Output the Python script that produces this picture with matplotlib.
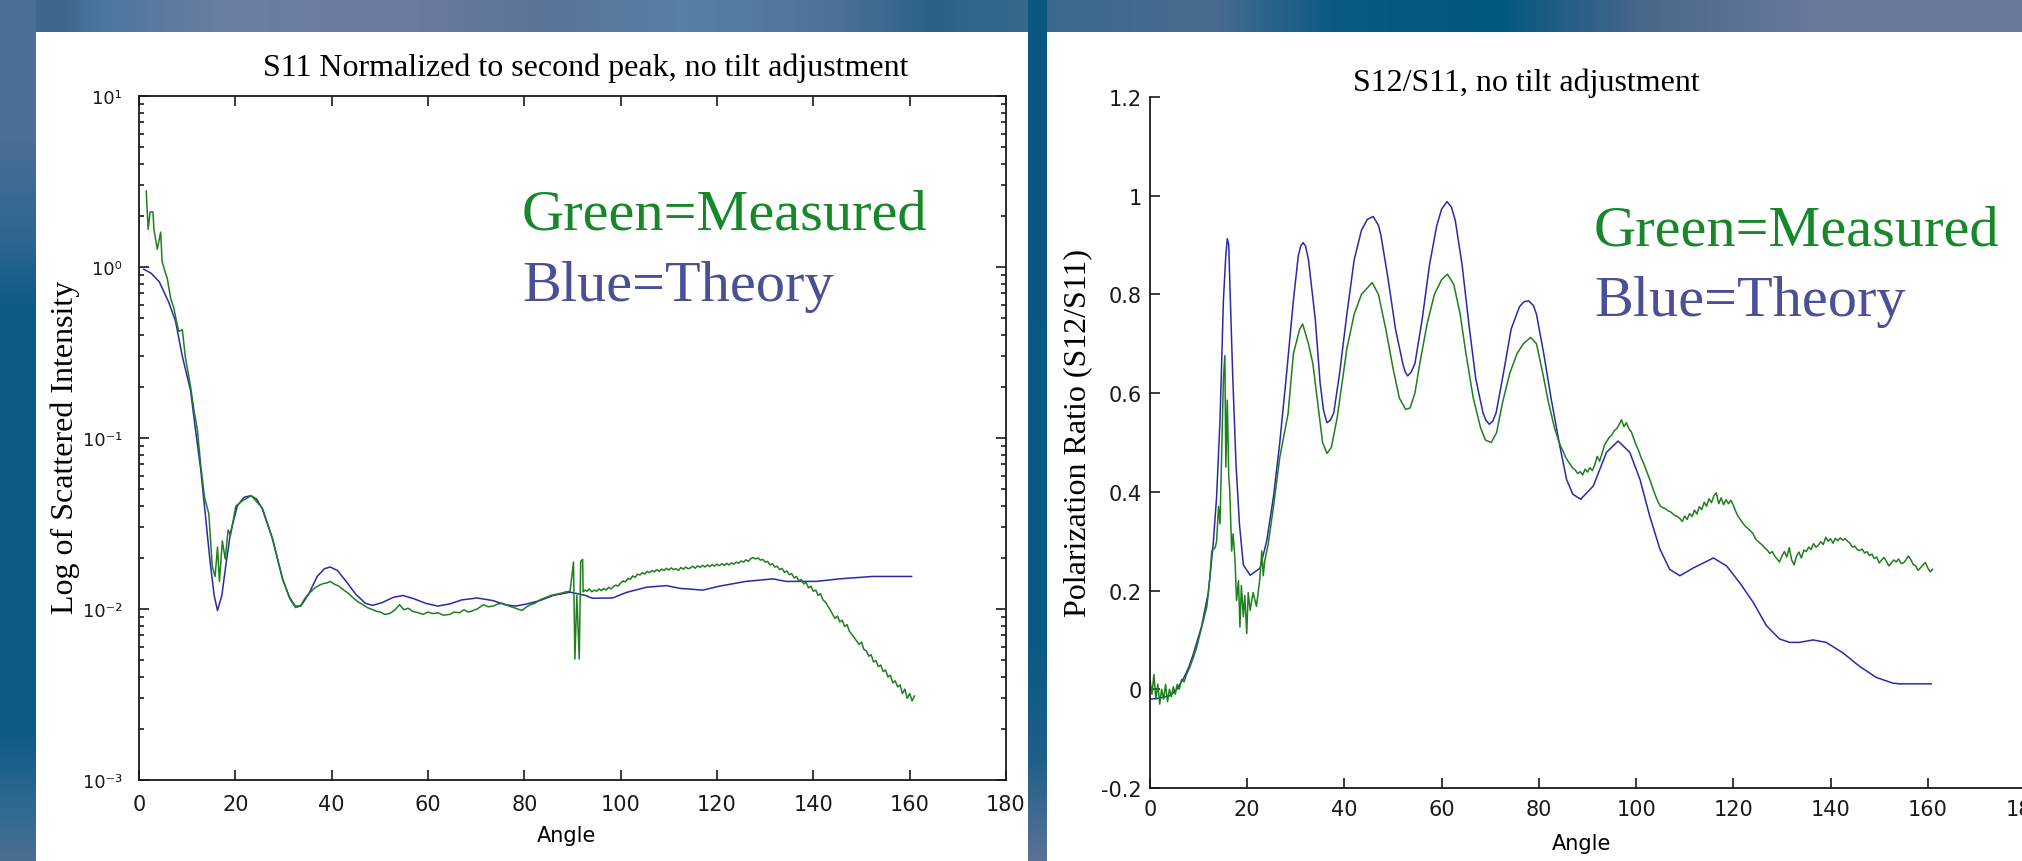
import numpy as np
import matplotlib
matplotlib.use('Agg')
import matplotlib.pyplot as plt
import matplotlib.colors as mcolors
from matplotlib.ticker import LogLocator, NullFormatter

# ---------------- left chart: S11 (log scale) ----------------
s11_theory_angle = [1.0, 2.5, 4.2, 6.2, 7.6, 9.0, 10.7, 11.8, 12.8, 13.8,
                    14.7, 15.6, 16.3, 17.2, 18.0, 19.0, 20.4, 21.8, 23.2, 24.4,
                    25.6, 27.7, 29.8, 31.2, 32.4, 33.6, 35.2, 37.0, 38.5, 39.7,
                    41.2, 43.0, 45.0, 47.0, 48.5, 50.5, 52.8, 54.8, 57.0, 59.5,
                    62.0, 64.5, 67.0, 70.2, 73.5, 76.0, 78.2, 80.5, 83.2, 86.0,
                    89.5, 92.7, 94.1, 98.3, 101.2, 105.3, 109.5, 112.3, 117.1, 120.5,
                    126.0, 131.6, 134.3, 140.6, 145.4, 152.3, 160.4]
s11_theory = [0.97, 0.92, 0.82, 0.62, 0.48, 0.30, 0.19, 0.108, 0.066, 0.035,
              0.0196, 0.012, 0.0098, 0.012, 0.0178, 0.028, 0.040, 0.045, 0.046, 0.044,
              0.0385, 0.0257, 0.015, 0.0118, 0.0104, 0.0104, 0.0122, 0.0155, 0.0172, 0.0176,
              0.0168, 0.0145, 0.0122, 0.0108, 0.0105, 0.0109, 0.0117, 0.012, 0.0115, 0.0108,
              0.0104, 0.0107, 0.0113, 0.0116, 0.0112, 0.0106, 0.0104, 0.0107, 0.0112, 0.012,
              0.01254, 0.012, 0.01156, 0.0116, 0.0125, 0.0134, 0.0137, 0.0132, 0.0129, 0.0136,
              0.0145, 0.015, 0.0145, 0.0145, 0.015, 0.0155, 0.0155]

s11_meas_angle = [1.5, 1.9, 2.3, 2.9, 3.1, 3.8, 4.5, 4.8, 5.9, 6.6,
                  7.2, 8.0, 8.3, 9.0, 9.6, 10.7, 11.5, 12.1, 12.8, 13.6,
                  14.5, 15.2, 15.8, 16.3, 16.7, 17.3, 17.9, 18.5, 19.0, 20.1,
                  21.5, 23.3, 25.6, 27.7, 29.8, 31.3, 32.5, 33.5, 34.5, 35.4,
                  36.5, 37.5, 38.3, 39.0, 39.7, 40.5, 41.5, 42.5, 43.4, 44.5,
                  45.5, 46.5, 47.4, 48.5, 49.3, 50.1, 51.0, 52.0, 53.0, 54.1,
                  55.0, 55.9, 56.8, 58.0, 59.0, 60.0, 61.0, 62.1, 63.2, 64.5,
                  65.5, 66.5, 67.5, 68.3, 69.0, 70.2, 71.5, 72.5, 73.5, 74.5,
                  75.5, 76.8, 78.2, 79.5, 80.5, 81.3, 82.2, 83.2, 84.5, 85.5,
                  86.7, 87.8, 88.6, 89.5, 90.2, 90.5, 90.9, 91.4, 91.7, 92.1,
                  92.2, 92.6]
s11_meas = [2.78, 1.66, 2.1, 2.1, 1.66, 1.27, 1.6, 1.07, 0.85, 0.65,
            0.58, 0.45, 0.42, 0.43, 0.30, 0.20, 0.14, 0.113, 0.07, 0.045,
            0.036, 0.0178, 0.0155, 0.023, 0.0145, 0.025, 0.0196, 0.029, 0.027, 0.040,
            0.043, 0.046, 0.039, 0.026, 0.015, 0.0115, 0.0102, 0.0104, 0.0116, 0.0124,
            0.0133, 0.0138, 0.0141, 0.0142, 0.0145, 0.0140, 0.0136, 0.0129, 0.0124, 0.0116,
            0.0110, 0.0106, 0.0102, 0.0099, 0.0097, 0.0096, 0.0093, 0.0094, 0.0098, 0.0106,
            0.0099, 0.0101, 0.0097, 0.0095, 0.0093, 0.0096, 0.0094, 0.0095, 0.0092, 0.0093,
            0.0096, 0.0095, 0.0099, 0.0096, 0.0097, 0.0100, 0.0106, 0.0103, 0.0104, 0.0107,
            0.0108, 0.0104, 0.0101, 0.0098, 0.0103, 0.0106, 0.0108, 0.0113, 0.0117, 0.0120,
            0.0122, 0.0124, 0.0126, 0.0127, 0.0188, 0.0051, 0.0120, 0.0051, 0.019, 0.0195,
            0.0126, 0.0129]
# measured S11 from 93 deg on, sampled every half degree
s11_meas_tail_start = 93.0
s11_meas_tail = [0.0127, 0.0131, 0.0126, 0.0129, 0.0127, 0.0131, 0.0128, 0.0132, 0.0129, 0.0134,
                 0.0131, 0.0135, 0.0138, 0.0136, 0.0142, 0.0146, 0.0144, 0.0151, 0.0149, 0.0156,
                 0.0153, 0.0160, 0.0158, 0.0163, 0.0160, 0.0166, 0.0163, 0.0168, 0.0165, 0.0170,
                 0.0166, 0.0171, 0.0168, 0.0173, 0.0169, 0.0174, 0.0170, 0.0172, 0.0168, 0.0175,
                 0.0171, 0.0176, 0.0172, 0.0174, 0.0178, 0.0173, 0.0179, 0.0175, 0.0180, 0.0176,
                 0.0181, 0.0177, 0.0182, 0.0178, 0.0183, 0.0179, 0.0184, 0.0180, 0.0185, 0.0181,
                 0.0186, 0.0183, 0.0188, 0.0185, 0.0191, 0.0188, 0.0194, 0.0190, 0.0197, 0.0200,
                 0.0196, 0.0199, 0.0193, 0.0195, 0.0188, 0.0190, 0.0181, 0.0184, 0.0176, 0.0178,
                 0.0170, 0.0173, 0.0164, 0.0167, 0.0159, 0.0161, 0.0152, 0.0155, 0.0146, 0.0149,
                 0.0140, 0.0143, 0.0133, 0.0136, 0.0127, 0.0129, 0.0120, 0.0123, 0.0113, 0.0110,
                 0.0104, 0.0099, 0.0093, 0.0088, 0.0091, 0.0084, 0.0086, 0.0079, 0.0081, 0.0074,
                 0.0071, 0.0068, 0.0065, 0.0062, 0.0064, 0.0058, 0.0057, 0.0053, 0.0054, 0.0049,
                 0.0050, 0.0046, 0.0047, 0.0043, 0.0044, 0.0040, 0.0041, 0.0037, 0.0038, 0.0035,
                 0.0036, 0.0032, 0.0034, 0.0030, 0.0032, 0.0029, 0.0031]

# ---------------- right chart: S12/S11 ----------------
ratio_theory_angle = [0, 2.0, 4.1, 5.5, 6.9, 8.0, 8.9, 10.6, 12.0, 13.0,
                      13.7, 14.4, 15.1, 15.6, 15.9, 16.2, 16.4, 17.0, 17.7, 18.4,
                      19.2, 20.6, 22.6, 24.0, 25.4, 26.7, 28.1, 29.5, 30.5, 31.0,
                      31.5, 32.0, 32.6, 34.0, 35.0, 35.7, 36.4, 37.1, 37.8, 39.0,
                      40.5, 42.0, 43.5, 44.7, 45.9, 47.0, 47.5, 49.0, 50.5, 52.0,
                      52.5, 53.0, 53.7, 54.5, 56.0, 57.5, 59.0, 60.0, 61.1, 62.0,
                      62.8, 64.2, 65.6, 67.0, 68.5, 69.1, 69.8, 70.5, 71.2, 72.7,
                      74.3, 76.0, 76.9, 77.9, 78.9, 79.5, 81.0, 82.5, 84.3, 85.7,
                      87.0, 88.6, 91.2, 93.9, 96.3, 98.7, 100.8, 102.8, 104.9, 106.9,
                      109.0, 111.8, 115.9, 118.6, 121.3, 124.1, 126.8, 129.5, 131.6, 133.6,
                      136.4, 139.1, 142.5, 145.9, 149.4, 152.8, 154.2, 160.7]
ratio_theory = [-0.02, -0.018, -0.013, 0.0, 0.022, 0.045, 0.071, 0.127, 0.196, 0.294,
                0.39, 0.544, 0.788, 0.88, 0.913, 0.9, 0.83, 0.64, 0.454, 0.335,
                0.252, 0.231, 0.245, 0.30, 0.39, 0.50, 0.64, 0.788, 0.878, 0.898,
                0.905, 0.898, 0.87, 0.75, 0.62, 0.565, 0.54, 0.545, 0.56, 0.64,
                0.76, 0.87, 0.93, 0.952, 0.958, 0.94, 0.92, 0.83, 0.73, 0.66,
                0.643, 0.635, 0.642, 0.66, 0.75, 0.86, 0.94, 0.973, 0.988, 0.977,
                0.95, 0.86, 0.74, 0.63, 0.56, 0.545, 0.537, 0.543, 0.56, 0.64,
                0.73, 0.775, 0.785, 0.787, 0.777, 0.76, 0.68, 0.59, 0.493, 0.425,
                0.395, 0.385, 0.412, 0.48, 0.503, 0.48, 0.425, 0.351, 0.284, 0.243,
                0.23, 0.246, 0.266, 0.25, 0.216, 0.176, 0.129, 0.102, 0.095, 0.095,
                0.1, 0.095, 0.074, 0.047, 0.024, 0.0125, 0.011, 0.011]

ratio_meas_angle = [0.0, 0.4, 0.8, 1.2, 1.6, 2.0, 2.4, 2.8, 3.2, 3.6,
                    4.0, 4.4, 4.8, 5.2, 5.6, 6.0, 6.5, 7.0, 7.5, 8.2,
                    8.9, 9.6, 10.3, 11.0, 11.7, 12.3, 12.7, 13.4, 13.7, 14.1,
                    14.4, 14.7, 15.1, 15.4, 15.6, 15.9, 16.2, 16.4, 16.8, 17.1,
                    17.5, 17.8, 18.2, 18.5, 18.8, 19.2, 19.5, 19.9, 20.2, 20.6,
                    21.2, 21.9, 22.6, 23.0, 23.3, 23.6, 24.3, 25.4, 26.7, 28.4,
                    29.5, 30.8, 31.4, 32.6, 33.5, 34.5, 35.5, 36.4, 37.3, 38.5,
                    39.5, 40.5, 42.0, 43.5, 45.7, 47.0, 48.5, 50.0, 51.3, 52.6,
                    53.5, 54.5, 55.5, 57.0, 58.5, 60.0, 61.2, 62.5, 63.8, 65.0,
                    66.5, 68.0, 69.0, 70.2, 71.3, 72.5, 74.0, 75.5, 76.8, 78.3,
                    79.5, 80.8, 82.0, 83.2]
ratio_meas = [0.02, -0.01, 0.03, -0.02, 0.01, -0.03, 0.0, -0.02, 0.01, -0.025,
              0.0, -0.015, 0.005, -0.01, 0.01, 0.0, 0.02, 0.015, 0.03, 0.045,
              0.064, 0.085, 0.113, 0.14, 0.168, 0.224, 0.28, 0.287, 0.30, 0.37,
              0.335, 0.46, 0.628, 0.676, 0.45, 0.586, 0.43, 0.405, 0.28, 0.315,
              0.26, 0.18, 0.22, 0.126, 0.21, 0.147, 0.19, 0.113, 0.196, 0.16,
              0.196, 0.168, 0.224, 0.28, 0.23, 0.26, 0.293, 0.37, 0.47, 0.558,
              0.68, 0.73, 0.74, 0.70, 0.66, 0.58, 0.50, 0.478, 0.49, 0.55,
              0.62, 0.69, 0.76, 0.80, 0.824, 0.80, 0.73, 0.65, 0.59, 0.567,
              0.57, 0.60, 0.66, 0.74, 0.80, 0.83, 0.841, 0.82, 0.76, 0.68,
              0.59, 0.53, 0.505, 0.50, 0.52, 0.58, 0.64, 0.68, 0.70, 0.713,
              0.70, 0.64, 0.58, 0.53]
# measured ratio from 84 deg on, sampled every half degree
ratio_meas_tail_start = 84.0
ratio_meas_tail = [0.505, 0.492, 0.482, 0.470, 0.462, 0.455, 0.448, 0.444, 0.437, 0.441,
                   0.434, 0.446, 0.440, 0.449, 0.443, 0.455, 0.472, 0.462, 0.478, 0.495,
                   0.503, 0.511, 0.515, 0.524, 0.528, 0.536, 0.546, 0.532, 0.540, 0.528,
                   0.522, 0.508, 0.495, 0.484, 0.470, 0.459, 0.446, 0.433, 0.420, 0.405,
                   0.392, 0.380, 0.371, 0.368, 0.366, 0.362, 0.360, 0.356, 0.352, 0.350,
                   0.346, 0.340, 0.351, 0.344, 0.356, 0.350, 0.363, 0.355, 0.370, 0.364,
                   0.379, 0.371, 0.386, 0.378, 0.392, 0.398, 0.376, 0.388, 0.374, 0.384,
                   0.376, 0.383, 0.373, 0.360, 0.350, 0.343, 0.336, 0.330, 0.326, 0.321,
                   0.316, 0.306, 0.300, 0.296, 0.292, 0.286, 0.282, 0.275, 0.279, 0.270,
                   0.264, 0.258, 0.270, 0.279, 0.268, 0.287, 0.262, 0.252, 0.270, 0.278,
                   0.266, 0.282, 0.279, 0.288, 0.283, 0.295, 0.288, 0.292, 0.299, 0.293,
                   0.308, 0.300, 0.305, 0.296, 0.306, 0.301, 0.307, 0.302, 0.305, 0.300,
                   0.296, 0.288, 0.290, 0.283, 0.281, 0.284, 0.276, 0.279, 0.271, 0.274,
                   0.265, 0.268, 0.256, 0.262, 0.267, 0.259, 0.250, 0.256, 0.262, 0.258,
                   0.264, 0.255, 0.256, 0.262, 0.270, 0.263, 0.253, 0.250, 0.241, 0.246,
                   0.252, 0.257, 0.246, 0.238, 0.243]

angle_ticks = [0, 20, 40, 60, 80, 100, 120, 140, 160, 180]
s11_ticks = [1e-3, 1e-2, 1e-1, 1, 10]
s11_ticklabels = ['10\u207b\u00b3', '10\u207b\u00b2', '10\u207b\u00b9', '10\u2070', '10\u00b9']
ratio_ticks = [-0.2, 0, 0.2, 0.4, 0.6, 0.8, 1.0, 1.2]
ratio_ticklabels = ['-0.2', '0', '0.2', '0.4', '0.6', '0.8', '1', '1.2']

GREEN_LINE = '#1f7f1f'
BLUE_LINE = '#2a2aa8'
GREEN_TXT = '#16882a'
BLUE_TXT = '#4b4f97'
SERIF = 'Liberation Serif'

plt.rcParams['font.family'] = 'DejaVu Sans'
plt.rcParams['font.size'] = 15

W, H = 2022, 862
fig = plt.figure(figsize=(W / 100, H / 100), dpi=100)


def px(x, y):
    # pixel position (from top-left) -> figure fraction
    return x / W, 1 - y / H


def ramp(stops, n):
    pos = [p for p, c in stops]
    cols = np.array([mcolors.to_rgb(c) for p, c in stops])
    t = np.linspace(0, 1, n)
    return np.stack([np.interp(t, pos, cols[:, k]) for k in range(3)], axis=1)


# slide background: blue band on top, strip on the left, gap between panels
bg = np.ones((H, W, 3))
bg[:33, :] = ramp([(0.0, '#3f6a8e'), (0.03, '#3d668a'), (0.05, '#4a76a0'), (0.08, '#5c7aa0'),
                   (0.11, '#6a7fa3'), (0.2, '#6d7b9e'), (0.27, '#5a7498'), (0.34, '#5880a6'),
                   (0.41, '#4e7399'), (0.46, '#2c6288'), (0.52, '#3a6a8e'), (0.6, '#4a6c90'),
                   (0.66, '#0a5a84'), (0.74, '#00577f'), (0.78, '#2c5f86'), (0.82, '#4d6a8c'),
                   (0.9, '#6a7a9c'), (1.0, '#6b7a9a')], W)[None, :, :]
bg[:, :36] = ramp([(0.0, '#4a6f95'), (0.15, '#4e7098'), (0.28, '#2d6690'), (0.36, '#0b5b86'),
                   (0.85, '#0b5b86'), (0.93, '#2d6890'), (1.0, '#4a7090')], H)[:, None, :]
bg[:, 1028:1047] = ramp([(0.0, '#0a5882'), (0.75, '#0a5a84'), (0.88, '#1f5f88'),
                         (1.0, '#5a7296')], H)[:, None, :]
bg_ax = fig.add_axes([0, 0, 1, 1], zorder=-1)
bg_ax.imshow(bg, aspect='auto', extent=[0, 1, 0, 1], interpolation='bilinear')
bg_ax.axis('off')

# ---------------- left chart ----------------
ax1 = fig.add_axes([139 / W, 1 - 781 / H, (1006 - 139) / W, (781 - 97) / H])
ax1.plot(s11_theory_angle, s11_theory, color=BLUE_LINE, lw=1.1)
s11_tail_angle = s11_meas_tail_start + 0.5 * np.arange(len(s11_meas_tail))
ax1.plot(np.concatenate([s11_meas_angle, s11_tail_angle]),
         np.concatenate([s11_meas, s11_meas_tail]), color=GREEN_LINE, lw=1.1)
ax1.set_yscale('log')
ax1.set_xlim(0, 180)
ax1.set_ylim(1e-3, 10)
ax1.set_xticks(angle_ticks)
ax1.set_yticks(s11_ticks)
ax1.set_yticklabels(s11_ticklabels, fontsize=13)
ax1.yaxis.set_minor_locator(LogLocator(base=10, subs=range(2, 10), numticks=20))
ax1.yaxis.set_minor_formatter(NullFormatter())
ax1.tick_params(which='both', direction='in', top=True, right=True, colors='#1a1a1a', width=1.2)
ax1.tick_params(which='major', length=7)
ax1.tick_params(which='minor', length=3.5)
ax1.tick_params(axis='y', pad=12)
ax1.tick_params(axis='x', pad=10)
for s in ax1.spines.values():
    s.set_linewidth(1.3)
    s.set_color('#1a1a1a')
ax1.set_xlabel('Angle', fontsize=15)
ax1.xaxis.set_label_coords((567 - 139) / 867, (781 - 826) / 684)
ax1.set_ylabel('Log of Scattered Intensity', family=SERIF, fontsize=23)
ax1.yaxis.set_label_coords((80 - 139) / 867, (781 - 447) / 684)

fig.text(*px(586, 76), 'S11 Normalized to second peak, no tilt adjustment',
         family=SERIF, fontsize=23, ha='center', va='baseline')
fig.text(*px(522, 230), 'Green=Measured', family=SERIF, fontsize=42, color=GREEN_TXT, va='baseline')
fig.text(*px(522, 301), 'Blue=Theory', family=SERIF, fontsize=42, color=BLUE_TXT, va='baseline')

# ---------------- right chart ----------------
ax2 = fig.add_axes([1150 / W, 1 - 789 / H, (2025 - 1150) / W, (789 - 98) / H])
ax2.plot(ratio_theory_angle, ratio_theory, color=BLUE_LINE, lw=1.1)
ratio_tail_angle = ratio_meas_tail_start + 0.5 * np.arange(len(ratio_meas_tail))
ax2.plot(np.concatenate([ratio_meas_angle, ratio_tail_angle]),
         np.concatenate([ratio_meas, ratio_meas_tail]), color=GREEN_LINE, lw=1.1)
ax2.set_xlim(0, 180)
ax2.set_ylim(-0.2, 1.2)
ax2.set_xticks(angle_ticks)
ax2.set_yticks(ratio_ticks)
ax2.set_yticklabels(ratio_ticklabels)
ax2.spines['top'].set_visible(False)
ax2.spines['right'].set_visible(False)
ax2.tick_params(direction='in', length=7, width=1.2, colors='#1a1a1a')
ax2.tick_params(axis='y', pad=6)
ax2.tick_params(axis='x', pad=8)
for s in ('left', 'bottom'):
    ax2.spines[s].set_linewidth(1.3)
    ax2.spines[s].set_color('#1a1a1a')
ax2.set_xlabel('Angle', fontsize=15)
ax2.xaxis.set_label_coords((1582 - 1150) / 875, (789 - 834) / 691)
ax2.set_ylabel('Polarization Ratio (S12/S11)', family=SERIF, fontsize=23)
ax2.yaxis.set_label_coords((1092 - 1150) / 875, (789 - 433) / 691)

fig.text(*px(1526, 91), 'S12/S11, no tilt adjustment',
         family=SERIF, fontsize=23, ha='center', va='baseline')
fig.text(*px(1594, 246), 'Green=Measured', family=SERIF, fontsize=42, color=GREEN_TXT, va='baseline')
fig.text(*px(1594, 316), 'Blue=Theory', family=SERIF, fontsize=42, color=BLUE_TXT, va='baseline')

fig.savefig('out.png', dpi=100)
